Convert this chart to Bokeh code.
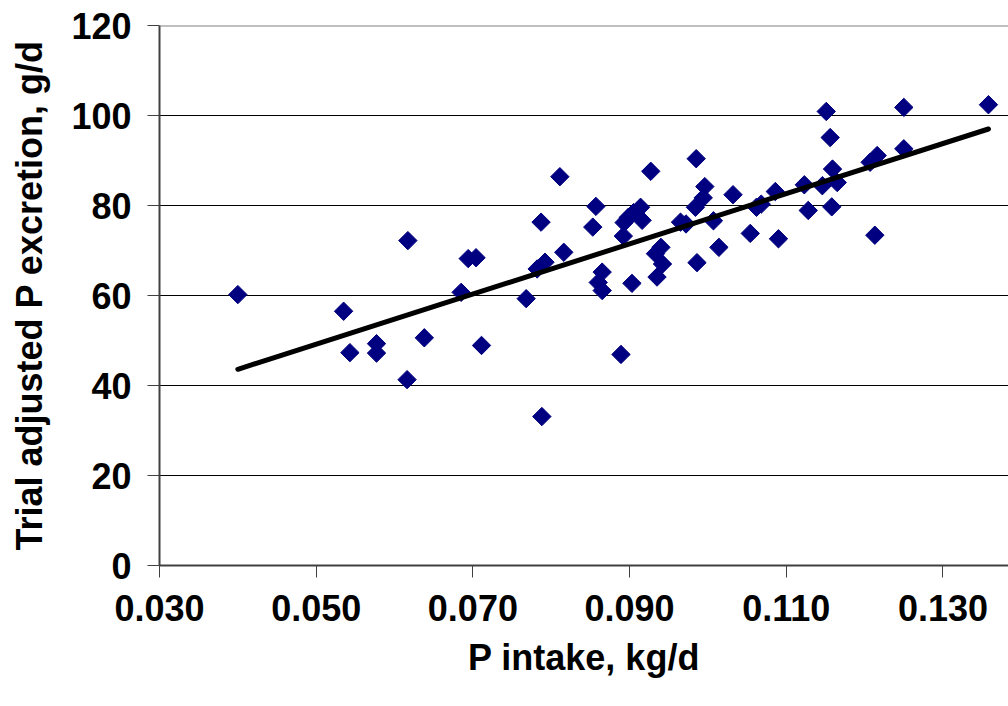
from bokeh.plotting import figure
from bokeh.models import Range1d, FixedTicker, Span, ColumnDataSource
from bokeh.embed import file_html
from bokeh.resources import INLINE

# Data
p_intake = [0.0400, 0.0535, 0.0543, 0.0577, 0.0577, 0.0617, 0.0616, 0.0638, 0.0685, 0.0694,
            0.0704, 0.0711, 0.0768, 0.0787, 0.0782, 0.0788, 0.0792, 0.0811, 0.0816, 0.0857,
            0.0853, 0.0865, 0.0860, 0.0865, 0.0889, 0.0892, 0.0893, 0.0898, 0.0905, 0.0914,
            0.0916, 0.0903, 0.0927, 0.0933, 0.0940, 0.0942, 0.0935, 0.0965, 0.0972, 0.0985,
            0.0996, 0.0994, 0.0984, 0.1007, 0.0986, 0.1014, 0.1032, 0.1054, 0.1062, 0.1068,
            0.1086, 0.1090, 0.1123, 0.1128, 0.1146, 0.1151, 0.1156, 0.1159, 0.1165, 0.1158,
            0.1213, 0.1207, 0.1216, 0.1250, 0.1250, 0.1358]
p_excretion = [60.2, 56.5, 47.3, 49.3, 47.2, 72.2, 41.3, 50.6, 60.7, 68.2,
               68.4, 48.9, 59.3, 76.3, 65.9, 33.1, 67.4, 86.4, 69.6, 79.8,
               75.2, 65.2, 62.9, 61.1, 46.9, 73.2, 76.2, 77.3, 78.4, 79.6,
               76.7, 62.7, 87.6, 69.3, 70.7, 67.0, 64.1, 76.3, 75.9, 90.4,
               84.2, 81.7, 79.6, 76.6, 67.3, 70.7, 82.4, 73.8, 79.6, 80.3,
               83.1, 72.6, 84.6, 78.9, 84.4, 100.9, 95.1, 88.1, 85.1, 79.7,
               73.4, 89.6, 91.1, 101.8, 92.6, 102.4]
trend_x = [0.040, 0.1358]
trend_y = [43.6, 97.0]
x_ticks = [0.03, 0.05, 0.07, 0.09, 0.11, 0.13]
x_tick_labels = ["0.030", "0.050", "0.070", "0.090", "0.110", "0.130"]
y_ticks = [0, 20, 40, 60, 80, 100, 120]

FONT = "Liberation Sans"

p = figure(width=1008, height=706, output_backend="svg", toolbar_location=None,
           x_range=Range1d(0.030, 0.13836), y_range=Range1d(0, 120),
           min_border_left=159, min_border_right=0, min_border_top=25, min_border_bottom=141)
p.background_fill_color = "white"
p.border_fill_color = "white"
p.outline_line_color = None

# axes
p.xaxis.ticker = FixedTicker(ticks=x_ticks)
p.xaxis.major_label_overrides = {t: l for t, l in zip(x_ticks, x_tick_labels)}
p.yaxis.ticker = FixedTicker(ticks=y_ticks)
for ax in (p.xaxis[0], p.yaxis[0]):
    ax.axis_line_color = "#404040"
    ax.axis_line_width = 2
    ax.major_tick_line_color = "#404040"
    ax.major_tick_line_width = 1
    ax.major_tick_out = 12
    ax.major_tick_in = 0
    ax.minor_tick_line_color = None
    ax.major_label_text_font = FONT
    ax.major_label_text_font_style = "bold"
    ax.major_label_text_font_size = "36px"
    ax.major_label_text_color = "black"
    ax.axis_label_text_font = FONT
    ax.axis_label_text_font_style = "bold"
    ax.axis_label_text_font_size = "36px"
    ax.axis_label_text_color = "black"

p.xaxis.axis_label = "P intake, kg/d"
p.yaxis.axis_label = "Trial adjusted P excretion, g/d"
p.xaxis.major_label_standoff = 17
p.yaxis.major_label_standoff = 16
p.xaxis.axis_label_standoff = 13
p.yaxis.axis_label_standoff = 18

p.xgrid.grid_line_color = None
p.ygrid.ticker = FixedTicker(ticks=[20, 40, 60, 80, 100])
p.ygrid.grid_line_color = "black"
p.ygrid.grid_line_width = 1

p.add_layout(Span(location=120, dimension="width", line_color="#808080", line_width=2))

src = ColumnDataSource(data=dict(x=p_intake, y=p_excretion))
p.scatter("x", "y", source=src, marker="square", size=13, angle=45, angle_units="deg",
          fill_color="#000080", line_color="#000080", line_width=1)

p.line(trend_x, trend_y, line_color="black", line_width=5, line_cap="round")

open("out.html", "w").write(file_html(p, INLINE))
